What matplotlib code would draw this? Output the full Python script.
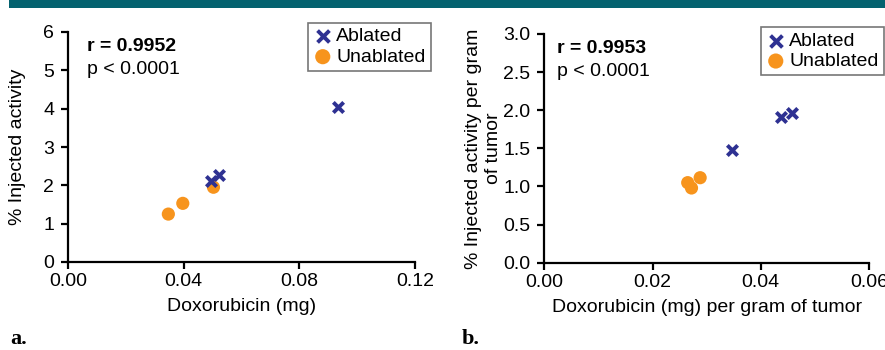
import matplotlib
matplotlib.use("Agg")
import matplotlib.pyplot as plt
from matplotlib.patches import Rectangle

plt.rcParams['font.family'] = ['Liberation Sans', 'DejaVu Sans']

# Panel a data
a_abl_x = [0.0933, 0.0493, 0.0522]
a_abl_y = [4.05, 2.11, 2.28]
a_unabl_x = [0.0347, 0.0397, 0.0503]
a_unabl_y = [1.25, 1.53, 1.95]
a_xticks = [0.00, 0.04, 0.08, 0.12]
a_xticklabels = ["0.00", "0.04", "0.08", "0.12"]
a_yticks = [0, 1, 2, 3, 4, 5, 6]
a_yticklabels = ["0", "1", "2", "3", "4", "5", "6"]

# Panel b data
b_abl_x = [0.0346, 0.0437, 0.0457]
b_abl_y = [1.48, 1.91, 1.97]
b_unabl_x = [0.0265, 0.0272, 0.0288]
b_unabl_y = [1.05, 0.98, 1.115]
b_xticks = [0.00, 0.02, 0.04, 0.06]
b_xticklabels = ["0.00", "0.02", "0.04", "0.06"]
b_yticks = [0.0, 0.5, 1.0, 1.5, 2.0, 2.5, 3.0]
b_yticklabels = ["0.0", "0.5", "1.0", "1.5", "2.0", "2.5", "3.0"]

BLUE = "#2e3192"
ORANGE = "#f7941d"
FS = 14

fig = plt.figure(figsize=(8.85, 3.5), dpi=100)
fig.patch.set_facecolor("white")
# teal header bar
fig.patches.append(Rectangle((9/885, 1-8/350), 1-9/885, 8/350, transform=fig.transFigure,
                             facecolor="#04626f", edgecolor="none", zorder=0))

def style(ax, xticks, xtl, yticks, ytl, xlim, ylim):
    ax.set_xlim(*xlim)
    ax.set_ylim(*ylim)
    for s in ["top", "right"]:
        ax.spines[s].set_visible(False)
    for s in ["left", "bottom"]:
        ax.spines[s].set_linewidth(1.6)
        ax.spines[s].set_color("black")
    ax.set_xticks(xticks)
    ax.set_xticklabels(xtl, fontsize=FS)
    ax.set_yticks(yticks)
    ax.set_yticklabels(ytl, fontsize=FS)
    ax.tick_params(direction="out", length=5, width=1.6)
    ax.tick_params(axis="y", pad=5)
    ax.tick_params(axis="x", pad=3)
    for sp in ax.spines.values():
        sp.set_clip_on(False)

def legend(ax, anchor):
    leg = ax.legend(loc="upper right", bbox_to_anchor=anchor, fontsize=FS, frameon=True, fancybox=False,
                    handletextpad=0.2, borderpad=0.25, labelspacing=0.15, handlelength=1.0,
                    borderaxespad=0, markerscale=1.15)
    leg.get_frame().set_edgecolor("#555555")
    leg.get_frame().set_linewidth(1.2)
    return leg

ax1 = fig.add_axes([68/885, 1-262/350, (415-68)/885, (262-32)/350])
ax1.scatter(a_abl_x, a_abl_y, marker="x", s=55, linewidths=2.8, color=BLUE, label="Ablated", zorder=4, clip_on=False)
ax1.scatter(a_unabl_x, a_unabl_y, marker="o", s=90, color=ORANGE, edgecolors="none", label="Unablated", zorder=3, clip_on=False)
style(ax1, a_xticks, a_xticklabels, a_yticks, a_yticklabels, (0, 0.12), (0, 6))
ax1.set_xlabel("Doxorubicin (mg)", fontsize=FS, labelpad=6)
ax1.set_ylabel("% Injected activity", fontsize=FS, labelpad=12)
ax1.text(0.054, 0.935, "r = 0.9952", transform=ax1.transAxes, fontsize=FS, fontweight="bold", va="center")
ax1.text(0.054, 0.835, "p < 0.0001", transform=ax1.transAxes, fontsize=FS, va="center")
legend(ax1, (1.045, 1.04))

ax2 = fig.add_axes([544.3/885, 1-262.7/350, (869-544.3)/885, (262.7-34)/350])
ax2.scatter(b_abl_x, b_abl_y, marker="x", s=55, linewidths=2.8, color=BLUE, label="Ablated", zorder=4, clip_on=False)
ax2.scatter(b_unabl_x, b_unabl_y, marker="o", s=90, color=ORANGE, edgecolors="none", label="Unablated", zorder=3, clip_on=False)
style(ax2, b_xticks, b_xticklabels, b_yticks, b_yticklabels, (0, 0.06), (0, 3.0))
ax2.set_xlabel("Doxorubicin (mg) per gram of tumor", fontsize=FS, labelpad=6)
ax2.set_ylabel("% Injected activity per gram\nof tumor", fontsize=FS, labelpad=1, linespacing=1.2)
ax2.text(0.038, 0.935, "r = 0.9953", transform=ax2.transAxes, fontsize=FS, fontweight="bold", va="center")
ax2.text(0.038, 0.835, "p < 0.0001", transform=ax2.transAxes, fontsize=FS, va="center")
legend(ax2, (1.045, 1.03))

fig.text(10/885, 1-339/350, "a.", fontsize=16, fontweight="bold", va="center", ha="left", family="Liberation Serif")
fig.text(462/885, 1-339/350, "b.", fontsize=16, fontweight="bold", va="center", ha="left", family="Liberation Serif")

fig.savefig("out.png", dpi=100)
